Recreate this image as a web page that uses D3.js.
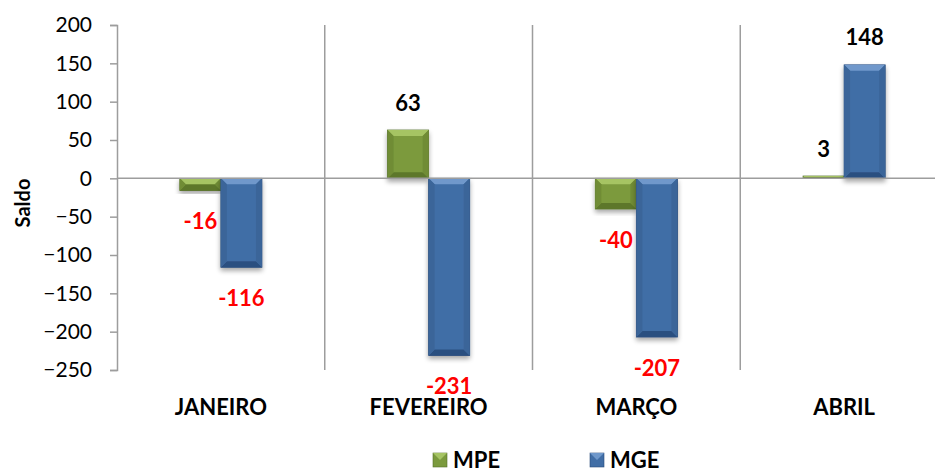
<!DOCTYPE html>
<html>
<head>
<meta charset="utf-8">
<script src="https://cdn.jsdelivr.net/npm/d3@7"></script>
<style>
  body { margin: 0; background: #fff; }
  text { font-family: Lato, "Open Sans", sans-serif; }
</style>
</head>
<body>
<script>
'use strict';

// chart data
const months = ["JANEIRO", "FEVEREIRO", "MARÇO", "ABRIL"];
const series = ["MPE", "MGE"];
const mpeValues = [-16, 63, -40, 3];
const mgeValues = [-116, -231, -207, 148];
const yTicks = [200, 150, 100, 50, 0, -50, -100, -150, -200, -250];

(function() {
  const width = 935, height = 472;
  const left = 117, right = 948, top = 25, bottom = 370;

  const svg = d3.select('body').append('svg')
    .attr('width', width)
    .attr('height', height);

  const defs = svg.append('defs');
  const shadow = defs.append('filter').attr('id', 'shadow')
    .attr('x', '-20%').attr('y', '-20%').attr('width', '140%').attr('height', '140%');
  shadow.append('feGaussianBlur').attr('in', 'SourceAlpha').attr('stdDeviation', 2.5);
  shadow.append('feOffset').attr('dx', 0).attr('dy', 3).attr('result', 'b');
  shadow.append('feComponentTransfer').append('feFuncA').attr('type', 'linear').attr('slope', 0.35);
  const merge = shadow.append('feMerge');
  merge.append('feMergeNode');
  merge.append('feMergeNode').attr('in', 'SourceGraphic');

  // colours for the bevelled bars: base, top, bottom, sides
  const palette = {
    MPE: { base: '#7b9a3d', top: '#a6c464', bottom: '#5d7729', side: '#6f8c35', edge: '#56702a' },
    MGE: { base: '#416ea6', top: '#6f98cb', bottom: '#2c4f80', side: '#3b6599', edge: '#2a4a78' }
  };

  const x0 = d3.scaleBand().domain(months).range([left, right]).paddingInner(0).paddingOuter(0);
  const x1 = d3.scaleBand().domain(series).range([0, x0.bandwidth()]).paddingInner(0).paddingOuter(1.53);
  const y = d3.scaleLinear().domain([-250, 200]).range([bottom, top]);

  const gridColor = '#9d9d9d';

  // category separators
  svg.selectAll('.sep')
    .data(months.slice(1))
    .enter().append('line')
    .attr('x1', d => x0(d)).attr('x2', d => x0(d))
    .attr('y1', top).attr('y2', bottom)
    .attr('stroke', gridColor).attr('stroke-width', 1.5);

  // y axis
  const yAxis = d3.axisLeft(y).tickValues(yTicks).tickSize(7).tickPadding(18).tickFormat(d3.format('d'));
  const ga = svg.append('g').attr('transform', 'translate(' + left + ',0)').call(yAxis);
  ga.select('.domain').attr('stroke', gridColor).attr('stroke-width', 1.5);
  ga.selectAll('.tick line').attr('stroke', gridColor).attr('stroke-width', 1.5);
  ga.selectAll('.tick text')
    .style('font-family', 'Lato, "Open Sans", sans-serif')
    .style('font-size', '21px').attr('fill', '#000');

  // y title
  svg.append('text')
    .attr('transform', 'translate(22, 203)rotate(-90)')
    .attr('text-anchor', 'middle')
    .attr('dominant-baseline', 'central')
    .style('font-size', '20px').style('font-weight', 'bold')
    .text('Saldo');

  // bars
  const rows = [];
  months.forEach((m, i) => {
    rows.push({ month: m, s: 'MPE', v: mpeValues[i] });
    rows.push({ month: m, s: 'MGE', v: mgeValues[i] });
  });

  const bw = x1.bandwidth();
  rows.forEach(d => {
    const xa = x0(d.month) + x1(d.s);
    const y0 = y(0), yv = y(d.v);
    const ya = Math.min(y0, yv), yb = Math.max(y0, yv);
    const h = yb - ya;
    const c = palette[d.s];
    const g = svg.append('g').attr('filter', 'url(#shadow)');
    g.append('rect').attr('x', xa).attr('y', ya).attr('width', bw).attr('height', Math.max(h, 1.5))
      .attr('fill', c.base).attr('stroke', c.edge).attr('stroke-width', 0.8);
    const b = Math.min(6, h / 2, bw / 2);
    if (b > 1) {
      const xb = xa + bw;
      g.append('polygon').attr('fill', c.top)
        .attr('points', [[xa, ya], [xb, ya], [xb - b, ya + b], [xa + b, ya + b]].join(' '));
      g.append('polygon').attr('fill', c.bottom)
        .attr('points', [[xa, yb], [xb, yb], [xb - b, yb - b], [xa + b, yb - b]].join(' '));
      g.append('polygon').attr('fill', c.side)
        .attr('points', [[xa, ya], [xa + b, ya + b], [xa + b, yb - b], [xa, yb]].join(' '));
      g.append('polygon').attr('fill', c.side)
        .attr('points', [[xb, ya], [xb - b, ya + b], [xb - b, yb - b], [xb, yb]].join(' '));
    }
  });

  // zero line
  svg.append('line')
    .attr('x1', left).attr('x2', right)
    .attr('y1', y(0)).attr('y2', y(0))
    .attr('stroke', gridColor).attr('stroke-width', 1.5);

  // value labels
  svg.selectAll('.val')
    .data(rows)
    .enter().append('text')
    .attr('x', d => x0(d.month) + x1(d.s) + bw / 2)
    .attr('y', d => d.v >= 0 ? y(d.v) - 28 : y(d.v) + 30)
    .attr('text-anchor', 'middle')
    .attr('dominant-baseline', 'central')
    .style('font-size', '22px').style('font-weight', 'bold')
    .attr('fill', d => d.v >= 0 ? '#000' : '#ff0000')
    .text(d => d.v);

  // category labels
  svg.selectAll('.cat')
    .data(months)
    .enter().append('text')
    .attr('x', d => x0(d) + x0.bandwidth() / 2)
    .attr('y', 406)
    .attr('text-anchor', 'middle')
    .attr('dominant-baseline', 'central')
    .style('font-size', '22px').style('font-weight', 'bold')
    .text(d => d);

  // legend
  const legendX = [433, 590];
  series.forEach((s, i) => {
    const c = palette[s];
    const lx = legendX[i], ly = 453, sz = 14;
    svg.append('rect').attr('x', lx).attr('y', ly).attr('width', sz).attr('height', sz)
      .attr('fill', c.base).attr('stroke', c.edge).attr('stroke-width', 0.6);
    svg.append('polygon').attr('fill', c.top)
      .attr('points', [[lx, ly], [lx + sz, ly], [lx + sz / 2, ly + sz / 2]].join(' '));
    svg.append('text')
      .attr('x', lx + sz + 6).attr('y', ly + sz / 2 - 1)
      .attr('dominant-baseline', 'central')
      .style('font-size', '22px').style('font-weight', 'bold')
      .text(s);
  });
})();
</script>
</body>
</html>
